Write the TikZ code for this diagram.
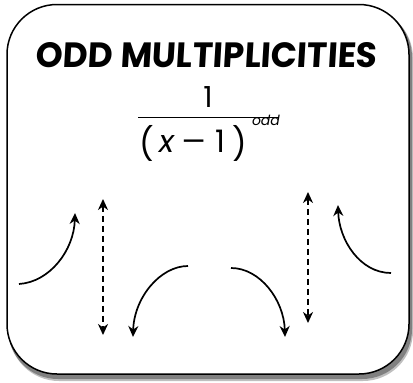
\documentclass[tikz,border=0pt]{standalone}
\usepackage{fontspec}
\usepackage{graphicx}
\setmainfont{Poppins}
\newfontfamily\titlefont{Poppins}[FakeSlant=0.06]
\usetikzlibrary{arrows.meta}
\tikzset{
  tip/.tip={Stealth[length=11pt,width=10pt,inset=3.5pt]},
  curvearrow/.style={line width=1.7pt, -tip},
  dasharrow/.style={line width=2.2pt, dash pattern=on 6pt off 4pt, tip-tip},
  txt/.style={inner sep=0pt, outer sep=0pt},
  big/.style={font=\fontsize{31pt}{33pt}\selectfont}
}
\begin{document}
\begin{tikzpicture}[x=1pt,y=-1pt]
\useasboundingbox (0,0) rectangle (413,383);
% shadow
\fill[black!25, rounded corners=50pt] (9,8) rectangle (413,381);
\fill[black!50, rounded corners=50pt] (8,7) rectangle (412,379);
% card
\draw[line width=1.5pt, fill=white, rounded corners=50pt] (7,4.5) rectangle (409,374);
% title
\node[txt, anchor=south] (title) at (206.5,68) {\resizebox{341pt}{25pt}{\titlefont\bfseries ODD MULTIPLICITIES}};
% fraction
\node[txt, font=\fontsize{29pt}{31pt}\selectfont, anchor=base] (num) at (208,107) {1};
\coordinate (barL) at (138,117.5);
\coordinate (barR) at (278,117.5);
\draw[line width=1.3pt] (barL) -- (barR);
\node[txt] (lp) at (147,143) {\resizebox*{!}{36pt}{\fontsize{29pt}{31pt}\selectfont (}};
\node[txt, big, anchor=base] (xx) at (167,152) {\textit{x}};
\node[txt, big, anchor=base] (mi) at (194,152) {\scalebox{1.2}[1]{–}};
\node[txt, big, anchor=base] (one) at (220,152) {1};
\node[txt] (rp) at (240,143) {\resizebox*{!}{36pt}{\fontsize{29pt}{31pt}\selectfont )}};
\node[txt, anchor=base west] (sup) at (252,125) {\fontsize{14pt}{15pt}\selectfont\textit{odd}};
% left curve up
\coordinate (a1) at (19,284);
\coordinate (a2) at (75,213);
\draw[curvearrow] (a1) .. controls (50,282) and (74,250) .. (a2);
% dashed 1
\coordinate (d1t) at (103,199);
\coordinate (d1b) at (103,335);
\draw[dasharrow] (d1t) -- (d1b);
% curve 2
\coordinate (b1) at (188,266);
\coordinate (b2) at (133,337);
\draw[curvearrow] (b1) .. controls (160,266) and (134,298) .. (b2);
% curve 3
\coordinate (c1) at (231,268);
\coordinate (c2) at (285,337);
\draw[curvearrow] (c1) .. controls (260,268) and (284,300) .. (c2);
% dashed 2
\coordinate (d2t) at (308,192);
\coordinate (d2b) at (308,323);
\draw[dasharrow] (d2t) -- (d2b);
% curve 4
\coordinate (e1) at (391,273);
\coordinate (e2) at (338,205);
\draw[curvearrow] (e1) .. controls (360,273) and (339,240) .. (e2);
\end{tikzpicture}
\end{document}
